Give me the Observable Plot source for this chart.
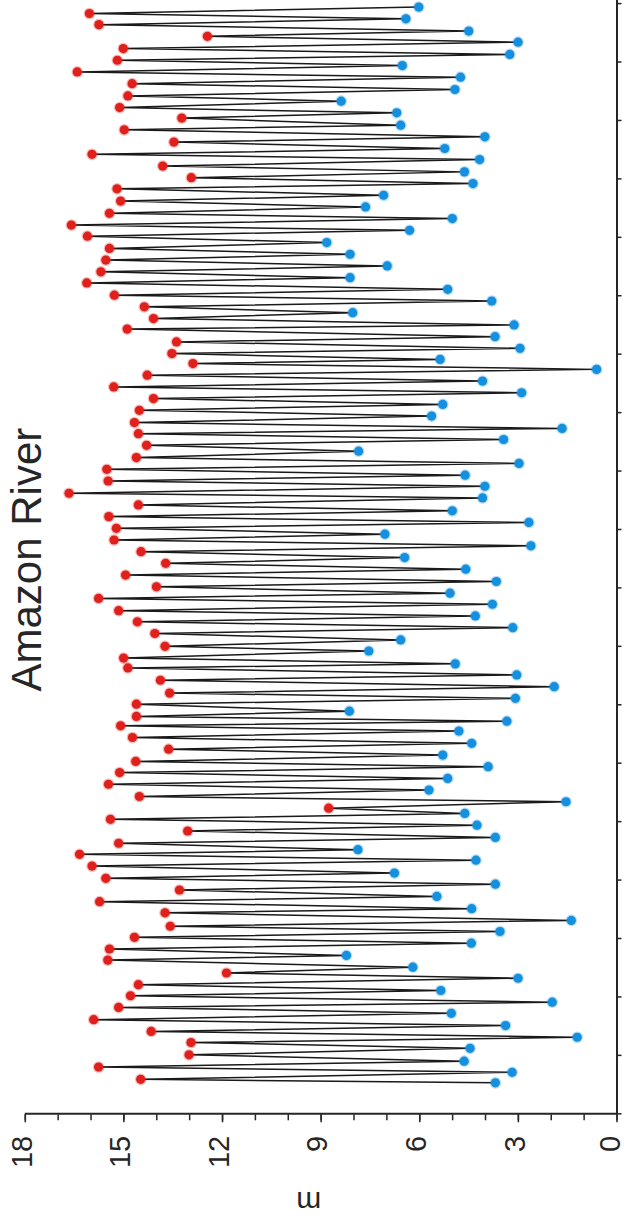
<!DOCTYPE html>
<html>
<head>
<meta charset="utf-8">
<script src="https://cdn.jsdelivr.net/npm/d3@7"></script>
<script src="https://cdn.jsdelivr.net/npm/@observablehq/plot@0.6"></script>
<style>
html, body { margin: 0; padding: 0; background: #fff; overflow: hidden; width: 626px; height: 1225px; }
#wrap { position: absolute; left: 0; top: 0; width: 1225px; height: 626px; transform-origin: 0 0; transform: translate(0px, 1225px) rotate(-90deg); }
#wrap svg { max-width: none !important; display: block; }
</style>
</head>
<body>
<div id="wrap"></div>
<script>
// High water (red) and low water (blue) events, in time order (axis tick units)
const highTime = [0.59, 0.80, 1.01, 1.22, 1.41, 1.61, 1.82, 2.02, 2.21, 2.41,
  2.63, 2.82, 3.02, 3.21, 3.44, 3.63, 3.83, 4.03, 4.24, 4.44,
  4.63, 4.84, 5.04, 5.23, 5.43, 5.64, 5.84, 6.03, 6.24, 6.44,
  6.64, 6.80, 7.01, 7.20, 7.42, 7.63, 7.80, 8.00, 8.22, 8.42,
  8.61, 8.82, 9.02, 9.22, 9.42, 9.62, 9.82, 10.02, 10.22, 10.42,
  10.62, 10.83, 11.03, 11.23, 11.44, 11.64, 11.83, 12.04, 12.24, 12.44,
  12.64, 12.84, 13.01, 13.21, 13.43, 13.61, 13.81, 14.01, 14.22, 14.41,
  14.61, 14.81, 15.02, 15.21, 15.41, 15.62, 15.83, 16.02, 16.22, 16.42,
  16.63, 16.84, 17.04, 17.22, 17.42, 17.63, 17.83, 18.03, 18.23, 18.44,
  18.64, 18.83];
const highLevel = [14.49, 15.77, 13.02, 12.96, 14.17, 15.92, 15.16, 14.80, 14.56, 11.88,
  15.49, 15.44, 14.68, 13.59, 13.75, 15.74, 13.31, 15.55, 15.97, 16.35,
  15.16, 13.06, 15.41, 8.77, 14.53, 15.47, 15.13, 14.64, 13.64, 14.74,
  15.10, 14.62, 14.62, 13.61, 13.89, 14.88, 15.01, 13.75, 14.06, 14.59,
  15.16, 15.77, 14.01, 14.95, 13.73, 14.48, 15.30, 15.23, 15.46, 14.56,
  16.67, 15.48, 15.52, 14.62, 14.31, 14.56, 14.68, 14.53, 14.10, 15.31,
  14.29, 12.90, 13.54, 13.40, 14.90, 14.10, 14.38, 15.29, 16.13, 15.70,
  15.55, 15.44, 16.11, 16.60, 15.44, 15.10, 15.21, 12.95, 13.82, 15.97,
  13.48, 14.99, 13.24, 15.13, 14.88, 14.75, 16.42, 15.20, 15.02, 12.46,
  15.76, 16.05];
const lowTime = [0.53, 0.71, 0.90, 1.12, 1.31, 1.51, 1.72, 1.91, 2.11, 2.32,
  2.51, 2.71, 2.92, 3.12, 3.31, 3.51, 3.72, 3.93, 4.12, 4.34,
  4.52, 4.73, 4.94, 5.14, 5.34, 5.54, 5.74, 5.94, 6.14, 6.34,
  6.55, 6.72, 6.89, 7.11, 7.31, 7.51, 7.70, 7.92, 8.11, 8.32,
  8.52, 8.72, 8.91, 9.11, 9.32, 9.52, 9.72, 9.92, 10.12, 10.32,
  10.54, 10.74, 10.93, 11.13, 11.34, 11.54, 11.73, 11.94, 12.14, 12.34,
  12.54, 12.74, 12.91, 13.10, 13.30, 13.50, 13.71, 13.91, 14.11, 14.31,
  14.51, 14.71, 14.91, 15.12, 15.32, 15.52, 15.72, 15.92, 16.12, 16.33,
  16.52, 16.72, 16.92, 17.13, 17.33, 17.53, 17.74, 17.94, 18.13, 18.34,
  18.53, 18.74, 18.94];
const lowLevel = [3.70, 3.19, 4.65, 4.47, 1.21, 3.39, 5.04, 1.97, 5.36, 3.01,
  6.21, 8.23, 4.43, 3.56, 1.39, 4.42, 5.48, 3.70, 6.77, 4.29,
  7.88, 3.70, 4.26, 4.63, 1.55, 5.72, 5.15, 3.92, 5.30, 4.42,
  4.81, 3.35, 8.14, 3.09, 1.91, 3.05, 4.92, 7.55, 6.58, 3.17,
  4.31, 3.79, 5.08, 3.67, 4.60, 6.46, 2.62, 7.06, 2.68, 5.01,
  4.09, 4.02, 4.62, 2.98, 7.86, 3.45, 1.67, 5.64, 5.30, 2.90,
  4.09, 0.62, 5.38, 2.95, 3.71, 3.13, 8.04, 3.81, 5.15, 8.12,
  6.99, 8.12, 8.83, 6.31, 5.01, 7.65, 7.10, 4.38, 4.64, 4.18,
  5.24, 4.02, 6.58, 6.70, 8.39, 4.93, 4.76, 6.53, 3.26, 3.01,
  4.51, 6.42, 6.03];
const yMajorTicks = [0, 3, 6, 9, 12, 15, 18];
const yMinorTicks = [0, 1, 2, 3, 4, 5, 6, 7, 8, 9, 10, 11, 12, 13, 14, 15, 16, 17, 18];
const xTicks = [0, 1, 2, 3, 4, 5, 6, 7, 8, 9, 10, 11, 12, 13, 14, 15, 16, 17, 18, 19];
const titleText = "Amazon River";
const yLabelText = "m";

const highs = highTime.map((t, i) => ({t, level: highLevel[i], kind: "high"}));
const lows = lowTime.map((t, i) => ({t, level: lowLevel[i], kind: "low"}));
const series = [...highs, ...lows].sort((a, b) => a.t - b.t);

const ink = "#262626";
const red = "#e0201c";
const blue = "#1590df";
const xMax = 19.07;
const upperLabels = yMajorTicks.filter(v => v > 0);
const zeroLabel = yMajorTicks.filter(v => v === 0);

const chart = Plot.plot({
  width: 1225,
  height: 626,
  marginLeft: 110.7,
  marginRight: 0,
  marginTop: 24.8,
  marginBottom: 9.5,
  style: {fontFamily: "'Liberation Sans', Arial, Helvetica, sans-serif", fontSize: "29px", color: ink, background: "#fff", maxWidth: "none"},
  x: {domain: [0, xMax]},
  y: {domain: [0, 18]},
  marks: [
    Plot.line(series, {x: "t", y: "level", stroke: "#1a1a1a", strokeWidth: 1.5}),
    Plot.dot(highs, {x: "t", y: "level", r: 4.6, fill: red, stroke: red, strokeWidth: 2.5, strokeOpacity: 0.3}),
    Plot.dot(lows, {x: "t", y: "level", r: 4.6, fill: blue, stroke: blue, strokeWidth: 2.5, strokeOpacity: 0.3}),
    Plot.axisY({ticks: yMinorTicks, tickSize: 6, fill: "none", stroke: ink, strokeWidth: 1.5}),
    Plot.axisY({ticks: yMajorTicks, tickSize: 8, fill: "none", stroke: ink, strokeWidth: 1.5}),
    Plot.axisY({ticks: upperLabels, tickSize: 0, tickPadding: 22, dy: -3, fill: ink, fontSize: 29, label: null}),
    Plot.axisY({ticks: zeroLabel, tickSize: 0, tickPadding: 22, dy: -6, fill: ink, fontSize: 29, label: null}),
    Plot.axisX({ticks: xTicks, tickSize: 5, fill: "none", stroke: ink, strokeWidth: 1.5}),
    Plot.ruleX([0], {y1: 0, y2: 18, stroke: ink, strokeWidth: 2}),
    Plot.ruleY([0], {x1: 0, x2: xMax, stroke: ink, strokeWidth: 2}),
    Plot.text([titleText], {text: d => d, frameAnchor: "top", lineAnchor: "bottom", dy: 15.2, dx: -3, fontSize: 42, fill: ink}),
    Plot.text([yLabelText], {text: d => d, frameAnchor: "left", rotate: -90, lineAnchor: "bottom", dx: -77.7, fontSize: 30, fill: ink})
  ]
});
document.getElementById("wrap").appendChild(chart);
</script>
</body>
</html>
